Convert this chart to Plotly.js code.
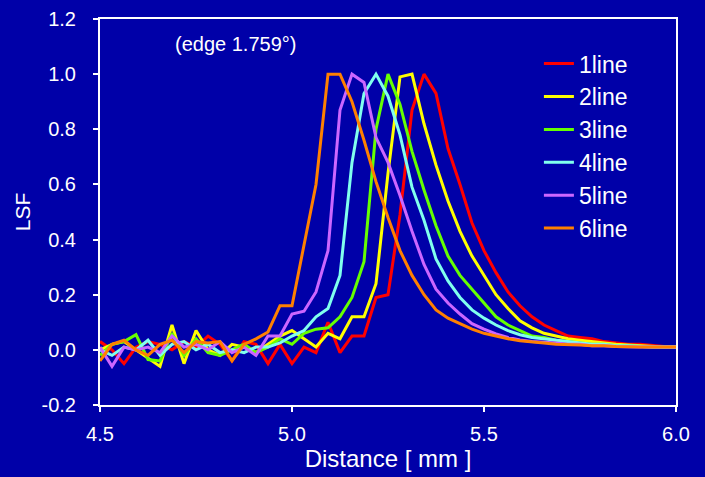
<!DOCTYPE html>
<html>
<head>
<meta charset="utf-8">
<script src="https://cdn.plot.ly/plotly-3.0.1.min.js"></script>
<style>html,body{margin:0;padding:0;background:#0000a8;}#chart{width:705px;height:477px;}</style>
</head>
<body>
<div id="chart"></div>
<script>
// Distance grid (mm), step 1/32 mm from 4.5 to 6.0
const distance = [4.5,4.53125,4.5625,4.59375,4.625,4.65625,4.6875,4.71875,4.75,4.78125,4.8125,4.84375,4.875,4.90625,4.9375,4.96875,5.0,5.03125,5.0625,5.09375,5.125,5.15625,5.1875,5.21875,5.25,5.28125,5.3125,5.34375,5.375,5.40625,5.4375,5.46875,5.5,5.53125,5.5625,5.59375,5.625,5.65625,5.6875,5.71875,5.75,5.78125,5.8125,5.84375,5.875,5.90625,5.9375,5.96875,6.0];

const line1 = [0.03,0.0,-0.05,0.01,0.03,0.02,0.0,0.03,0.01,0.05,0.02,-0.04,0.03,0.02,-0.05,0.02,-0.05,0.01,-0.01,0.10,-0.01,0.05,0.05,0.19,0.20,0.49,0.87,1.0,0.93,0.73,0.60,0.46,0.36,0.28,0.21,0.16,0.12,0.09,0.07,0.05,0.045,0.04,0.03,0.025,0.02,0.02,0.015,0.012,0.01];
const line2 = [0.0,0.02,0.03,0.0,-0.03,-0.06,0.09,-0.05,0.07,0.0,-0.02,0.02,0.01,-0.01,0.02,0.05,0.07,0.04,0.01,0.06,0.04,0.12,0.12,0.24,0.64,0.99,1.0,0.82,0.67,0.54,0.43,0.34,0.27,0.20,0.15,0.105,0.08,0.06,0.05,0.04,0.035,0.03,0.025,0.02,0.018,0.015,0.012,0.01,0.01];
const line3 = [-0.02,0.02,0.03,0.055,-0.035,-0.04,0.06,-0.02,0.04,-0.01,-0.02,0.0,0.02,-0.01,0.01,0.04,0.02,0.06,0.075,0.08,0.12,0.19,0.32,0.80,1.0,0.89,0.72,0.58,0.45,0.34,0.27,0.22,0.17,0.12,0.09,0.07,0.05,0.045,0.035,0.03,0.025,0.02,0.02,0.015,0.015,0.012,0.01,0.01,0.01];
const line4 = [0.0,-0.02,0.01,0.0,0.035,-0.02,0.02,0.03,0.0,0.02,-0.01,0.0,-0.01,0.01,0.01,0.025,0.05,0.07,0.12,0.15,0.27,0.68,0.93,1.0,0.92,0.78,0.59,0.47,0.33,0.25,0.19,0.145,0.115,0.09,0.07,0.055,0.045,0.04,0.035,0.03,0.025,0.02,0.02,0.015,0.015,0.012,0.01,0.01,0.01];
const line5 = [0.01,-0.06,0.01,0.0,0.01,-0.01,0.05,0.01,0.02,0.0,0.03,-0.01,0.01,-0.02,0.05,0.05,0.13,0.14,0.21,0.36,0.87,1.0,0.97,0.77,0.68,0.56,0.43,0.31,0.22,0.17,0.13,0.095,0.075,0.058,0.045,0.036,0.03,0.028,0.025,0.02,0.02,0.015,0.015,0.012,0.01,0.01,0.01,0.01,0.01];
const line6 = [-0.04,0.02,0.035,0.0,-0.02,0.02,0.035,-0.01,0.03,0.025,0.03,-0.04,0.02,0.04,0.065,0.16,0.16,0.38,0.60,1.0,1.0,0.90,0.76,0.61,0.48,0.36,0.27,0.20,0.145,0.115,0.095,0.075,0.06,0.05,0.04,0.033,0.03,0.025,0.02,0.02,0.018,0.015,0.015,0.012,0.01,0.01,0.01,0.01,0.01];

const seriesNames = ['1line','2line','3line','4line','5line','6line'];
const seriesData = [line1,line2,line3,line4,line5,line6];
const seriesColors = ['#ff0000','#ffff00','#66ff00','#80ffee','#cc66ff','#ff8000'];

const xTickVals = [4.5,5.0,5.5,6.0];
const yTickVals = [-0.2,0.0,0.2,0.4,0.6,0.8,1.0,1.2];

const traces = seriesData.map((ys,i)=>({
  type:'scatter', mode:'lines', name:seriesNames[i],
  x: distance, y: ys,
  line:{color:seriesColors[i], width:3}
}));

const font = 'Liberation Sans, Arial, sans-serif';
const layout = {
  width:705, height:477,
  paper_bgcolor:'#0000a8', plot_bgcolor:'#0000a8',
  margin:{l:100, r:29, t:19, b:72},
  showlegend:true,
  legend:{x:0.762, y:0.94, xanchor:'left', yanchor:'top', bgcolor:'rgba(0,0,0,0)',
          font:{family:font, size:23, color:'#ffffff'}, tracegroupgap:0},
  xaxis:{range:[4.5,6.0], tickvals:xTickVals, ticktext:xTickVals.map(v=>v.toFixed(1)),
         showgrid:false, zeroline:false, showline:true, linecolor:'#ffffff', linewidth:2, mirror:true,
         ticks:'outside', ticklen:5, tickcolor:'#ffffff', tickwidth:2, ticklabelstandoff:5,
         tickfont:{family:font, size:20, color:'#ffffff'},
         title:{text:'Distance [ mm ]', font:{family:font, size:24, color:'#ffffff'}, standoff:6}},
  yaxis:{range:[-0.2,1.2], tickvals:yTickVals, ticktext:yTickVals.map(v=>v.toFixed(1)),
         showgrid:false, zeroline:false, showline:true, linecolor:'#ffffff', linewidth:2, mirror:true,
         ticks:'outside', ticklen:5, tickcolor:'#ffffff', tickwidth:2, ticklabelstandoff:13,
         tickfont:{family:font, size:20, color:'#ffffff'},
         title:{text:'LSF', font:{family:font, size:21, color:'#ffffff'}, standoff:5}},
  annotations:[{xref:'paper', yref:'paper', x:0.235, y:0.935, xanchor:'center', yanchor:'middle',
                text:'(edge 1.759°)', showarrow:false, font:{family:font, size:20, color:'#ffffff'}}]
};
Plotly.newPlot('chart', traces, layout, {staticPlot:true, displayModeBar:false});
</script>
</body>
</html>
